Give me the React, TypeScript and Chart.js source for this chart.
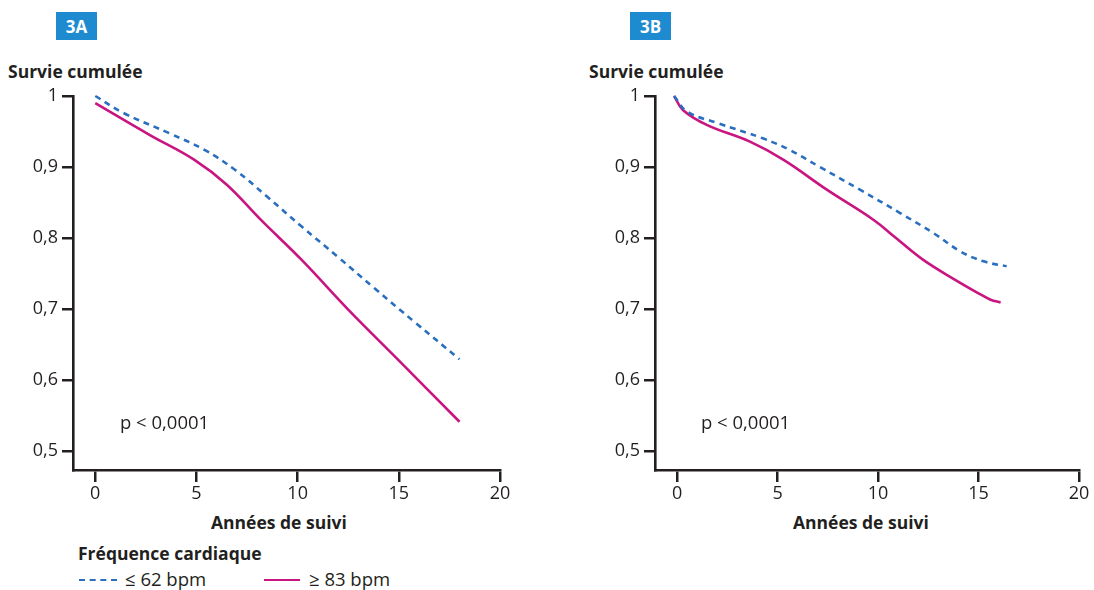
import React, { useEffect, useRef } from "react";
import { Chart, registerables } from "chart.js";

Chart.register(...registerables);

// Panel 3A
const a_low_t = [0, 1.4, 3.7, 5.4, 6.9, 8.5, 10.2, 12.0, 13.8, 15.8, 18.0];
const a_low_s = [1.0, 0.976, 0.947, 0.924, 0.896, 0.858, 0.816, 0.773, 0.729, 0.681, 0.629];
const a_high_t = [0, 2.7, 4.9, 6.5, 8.2, 10.2, 12.5, 14.8, 18.0];
const a_high_s = [0.99, 0.945, 0.91, 0.875, 0.825, 0.769, 0.699, 0.633, 0.541];

// Panel 3B
const b_low_t = [-0.15, 0.5, 2.0, 4.3, 5.6, 7.1, 9.1, 11.1, 12.75, 14.1, 15.25, 16.4];
const b_low_s = [1.0, 0.978, 0.962, 0.94, 0.924, 0.9, 0.868, 0.835, 0.807, 0.781, 0.767, 0.76];
const b_high_t = [-0.15, 0.3, 1.5, 3.6, 5.3, 7.45, 9.8, 10.8, 12.25, 13.9, 15.0, 15.6, 16.1];
const b_high_s = [1.0, 0.98, 0.959, 0.936, 0.91, 0.868, 0.825, 0.802, 0.769, 0.74, 0.722, 0.713, 0.709];

const xTicks = [0, 5, 10, 15, 20];
const yTicks = [0.5, 0.6, 0.7, 0.8, 0.9, 1];
const seriesLabels = ["≤ 62 bpm", "≥ 83 bpm"];

const BLUE = "#2a6fbf";
const MAGENTA = "#c8157f";
const AXIS = "#231f20";
const FONT = "'Open Sans', 'Noto Sans', sans-serif";

const pts = (t: number[], s: number[]) => t.map((x, i) => ({ x, y: s[i] }));

function Panel(props: {
  left: number;
  width: number;
  rightPad: number;
  lowT: number[];
  lowS: number[];
  highT: number[];
  highS: number[];
}) {
  const ref = useRef<HTMLCanvasElement>(null);
  useEffect(() => {
    const ctx = ref.current!;
    const chart = new Chart(ctx, {
      type: "line",
      data: {
        datasets: [
          {
            label: seriesLabels[0],
            data: pts(props.lowT, props.lowS),
            borderColor: BLUE,
            borderWidth: 2.6,
            borderDash: [6, 5],
            pointRadius: 0,
            tension: 0.4,
            fill: false,
          },
          {
            label: seriesLabels[1],
            data: pts(props.highT, props.highS),
            borderColor: MAGENTA,
            borderWidth: 2.6,
            pointRadius: 0,
            tension: 0.4,
            fill: false,
          },
        ],
      },
      options: {
        animation: false,
        responsive: false,
        devicePixelRatio: 1,
        clip: false as any,
        layout: { padding: { top: 16, right: props.rightPad, left: 0, bottom: 0 } },
        plugins: { legend: { display: false }, tooltip: { enabled: false }, title: { display: false } },
        scales: {
          x: {
            type: "linear",
            min: -1.1,
            max: 20,
            afterBuildTicks: (s: any) => {
              s.ticks = xTicks.map((v) => ({ value: v }));
            },
            afterFit: (s: any) => {
              s.height = 40;
            },
            grid: {
              display: true,
              drawOnChartArea: false,
              drawTicks: true,
              tickLength: 12,
              color: AXIS,
              lineWidth: 2.5,
            },
            border: { display: true, color: AXIS, width: 2.6 },
            ticks: {
              color: AXIS,
              font: { family: FONT, size: 18 },
              padding: 1,
              callback: (v: any) => String(v),
            },
          },
          y: {
            type: "linear",
            min: 0.473,
            max: 1,
            afterBuildTicks: (s: any) => {
              s.ticks = yTicks.map((v) => ({ value: v }));
            },
            afterFit: (s: any) => {
              s.width = 73;
            },
            grid: {
              display: true,
              drawOnChartArea: false,
              drawTicks: true,
              tickLength: 11,
              color: AXIS,
              lineWidth: 2.5,
            },
            border: { display: true, color: AXIS, width: 2.6 },
            ticks: {
              color: AXIS,
              font: { family: FONT, size: 18 },
              padding: 4,
              callback: (v: any) => String(Math.round(v * 10) / 10).replace(".", ","),
            },
          },
        },
      },
    });
    return () => chart.destroy();
  }, []);
  return (
    <canvas
      ref={ref}
      width={props.width}
      height={430}
      style={{ position: "absolute", left: props.left, top: 80, width: props.width, height: 430 }}
    />
  );
}

const txt = (extra: React.CSSProperties): React.CSSProperties => ({
  position: "absolute",
  fontFamily: FONT,
  color: AXIS,
  whiteSpace: "nowrap",
  lineHeight: 1,
  ...extra,
});

function Badge(props: { left: number; label: string }) {
  return (
    <div
      style={{
        position: "absolute",
        left: props.left,
        top: 12,
        width: 41,
        height: 28,
        background: "#1e8bd0",
        color: "#fff",
        fontFamily: FONT,
        fontWeight: 700,
        fontSize: 17,
        display: "flex",
        alignItems: "center",
        justifyContent: "center",
      }}
    >
      {props.label}
    </div>
  );
}

export default function App() {
  return (
    <div style={{ position: "absolute", left: 0, top: 0, width: 1094, height: 590, background: "#fff", overflow: "hidden" }}>
      <Badge left={56} label="3A" />
      <Badge left={630} label="3B" />
      <div style={txt({ left: 8, top: 63, fontSize: 17.5, fontWeight: 700 })}>Survie cumulée</div>
      <div style={txt({ left: 589, top: 63, fontSize: 17.5, fontWeight: 700 })}>Survie cumulée</div>
      <Panel left={0} width={520} rightPad={20} lowT={a_low_t} lowS={a_low_s} highT={a_high_t} highS={a_high_s} />
      <Panel left={582} width={520} rightPad={23} lowT={b_low_t} lowS={b_low_s} highT={b_high_t} highS={b_high_s} />
      <div style={txt({ left: 120, top: 413, fontSize: 18.5 })}>p &lt; 0,0001</div>
      <div style={txt({ left: 701, top: 413, fontSize: 18.5 })}>p &lt; 0,0001</div>
      <div style={txt({ left: 211, top: 514, fontSize: 17.5, fontWeight: 700 })}>Années de suivi</div>
      <div style={txt({ left: 793, top: 514, fontSize: 17.5, fontWeight: 700 })}>Années de suivi</div>
      <div style={txt({ left: 78, top: 545, fontSize: 17.5, fontWeight: 700 })}>Fréquence cardiaque</div>
      <div style={{ position: "absolute", left: 79, top: 579, width: 38, borderTop: `2.6px dashed ${BLUE}` }} />
      <div style={txt({ left: 125, top: 570, fontSize: 18.5 })}>{seriesLabels[0]}</div>
      <div style={{ position: "absolute", left: 264, top: 579, width: 36, borderTop: `2.6px solid ${MAGENTA}` }} />
      <div style={txt({ left: 309, top: 570, fontSize: 18.5 })}>{seriesLabels[1]}</div>
    </div>
  );
}
